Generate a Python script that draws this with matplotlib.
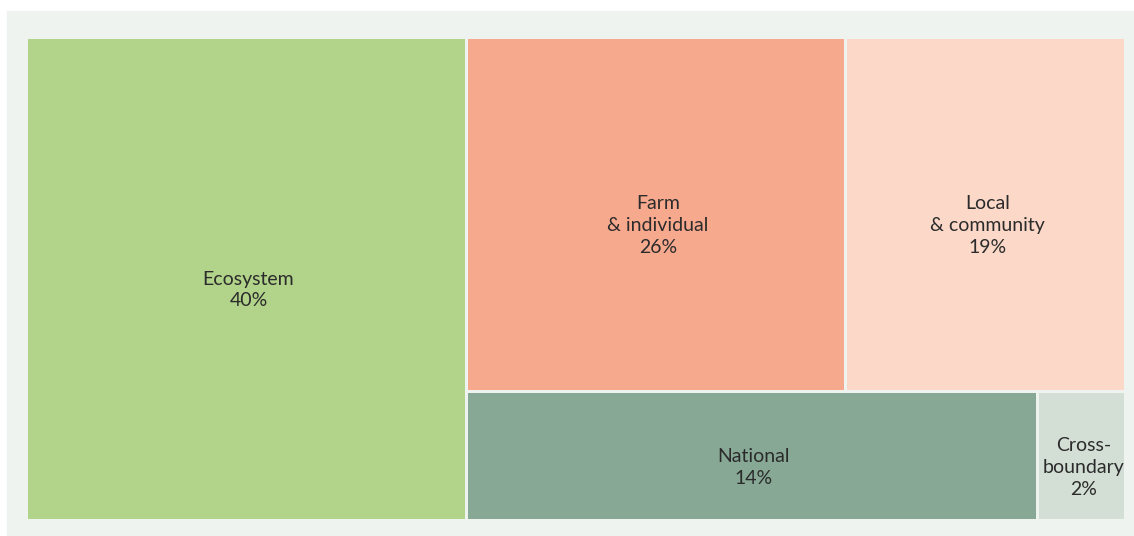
import matplotlib.pyplot as plt
from matplotlib.patches import Rectangle

# Доли (по площадям на картинке) и подписи
names = ["Ecosystem", "Farm\n& individual", "Local\n& community", "National", "Cross-\nboundary"]
shares = [40.0, 25.4, 18.7, 13.8, 2.1]
pct_labels = ["40%", "26%", "19%", "14%", "2%"]
colors = ["#b2d38a", "#f7a98e", "#fcd8c8", "#86a894", "#d3ded5"]

# структура: столбец Ecosystem | (ряд Farm+Local над рядом National+Cross)
W, H = 1096.0, 480.0
gap = 3.0


def layout(vals):
    total = sum(vals)
    eco_w = W * vals[0] / total
    rest_w = W - eco_w
    top = vals[1] + vals[2]
    bot = vals[3] + vals[4]
    top_h = H * top / (top + bot)
    rects = [(0, 0, eco_w, H)]
    x = eco_w
    for v in vals[1:3]:
        w = rest_w * v / top
        rects.append((x, H - top_h, w, top_h))
        x += w
    x = eco_w
    for v in vals[3:5]:
        w = rest_w * v / bot
        rects.append((x, 0, w, H - top_h))
        x += w
    return rects


fig = plt.figure(figsize=(11.34, 5.36), dpi=100)
fig.patch.set_facecolor("white")
# светлая подложка
fig.patches.append(Rectangle((7 / 1134, 0), 1 - 7 / 1134, (536 - 11) / 536,
                             transform=fig.transFigure, color="#eff3f0", zorder=-10))

ax = fig.add_axes([28 / 1134, 17 / 536, W / 1134, H / 536])
ax.set_xlim(0, W)
ax.set_ylim(0, H)
ax.axis("off")

for (x, y, w, h), name, pct, c in zip(layout(shares), names, pct_labels, colors):
    x0, y0, x1, y1 = x, y, x + w, y + h
    if x0 > 0.5:
        x0 += gap / 2
    if x1 < W - 0.5:
        x1 -= gap / 2
    if y0 > 0.5:
        y0 += gap / 2
    if y1 < H - 0.5:
        y1 -= gap / 2
    ax.add_patch(Rectangle((x0, y0), x1 - x0, y1 - y0, facecolor=c, edgecolor="none"))
    ax.text((x0 + x1) / 2 + 2, (y0 + y1) / 2 - 11, name + "\n" + pct,
            ha="center", va="center", fontsize=14, family="Lato",
            color="#2b2b2b", linespacing=1.35)

fig.savefig("out.png", dpi=100)
